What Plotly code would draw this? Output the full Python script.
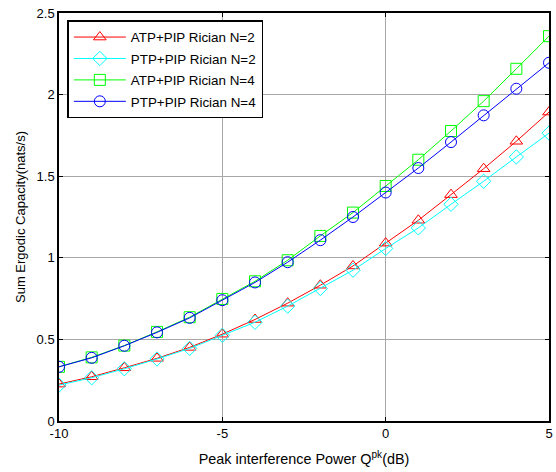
import plotly.graph_objects as go

x_db = [-10, -9, -8, -7, -6, -5, -4, -3, -2, -1, 0, 1, 2, 3, 4, 5]
atp_n2 = [0.226, 0.271, 0.326, 0.384, 0.451, 0.532, 0.622, 0.722, 0.832, 0.950, 1.090, 1.230, 1.387, 1.546, 1.714, 1.893]
ptp_n2 = [0.220, 0.265, 0.320, 0.380, 0.445, 0.525, 0.605, 0.704, 0.812, 0.924, 1.057, 1.183, 1.328, 1.469, 1.618, 1.764]
atp_n4 = [0.332, 0.390, 0.462, 0.546, 0.636, 0.748, 0.856, 0.985, 1.134, 1.277, 1.440, 1.601, 1.777, 1.960, 2.158, 2.358]
ptp_n4 = [0.332, 0.387, 0.461, 0.543, 0.632, 0.740, 0.849, 0.973, 1.108, 1.250, 1.400, 1.550, 1.709, 1.873, 2.036, 2.195]

series = [
    ("ATP+PIP Rician N=2", atp_n2, "#ff0000", "triangle-up-open"),
    ("PTP+PIP Rician N=2", ptp_n2, "#00ffff", "diamond-open"),
    ("ATP+PIP Rician N=4", atp_n4, "#00ff00", "square-open"),
    ("PTP+PIP Rician N=4", ptp_n4, "#0000ff", "circle-open"),
]

fig = go.Figure()
for i, (name, ys, col, sym) in enumerate(series):
    fig.add_trace(go.Scatter(
        x=x_db, y=ys, name=name, mode="lines+markers", legendgroup=f"g{i}",
        line=dict(color=col, width=1),
        marker=dict(symbol=sym, size=11, color=col, line=dict(color=col, width=1)),
    ))

axis_common = dict(
    showline=True, linecolor="black", linewidth=1.5, mirror="ticks",
    ticks="inside", ticklen=4, tickcolor="black",
    showgrid=True, gridcolor="#a8a8a8", gridwidth=1,
    zeroline=False, tickfont=dict(family="Liberation Sans, Arial", size=13, color="black"),
)

fig.update_layout(
    width=556, height=472,
    margin=dict(l=59, r=3, t=13, b=51),
    paper_bgcolor="white", plot_bgcolor="white",
    font=dict(family="Liberation Sans, Arial", size=13, color="black"),
    showlegend=True,
    legend=dict(
        x=0.017, y=0.982, xanchor="left", yanchor="top",
        bgcolor="white", bordercolor="black", borderwidth=1.5,
        font=dict(size=13.4), tracegroupgap=1, itemwidth=52,
    ),
    xaxis=dict(range=[-10, 5], tickvals=[-10, -5, 0, 5], ticktext=["-10", "-5", "0", "5"],
               title=dict(text="Peak interference Power Q<sup>pk</sup>(dB)", standoff=14,
                          font=dict(size=14.4)), **axis_common),
    yaxis=dict(range=[0, 2.5], tickvals=[0, 0.5, 1, 1.5, 2, 2.5],
               ticktext=["0", "0.5", "1", "1.5", "2", "2.5"],
               title=dict(text="Sum Ergodic Capacity(nats/s)", standoff=8,
                          font=dict(size=13)), **axis_common),
)

fig.write_html("out.html")
